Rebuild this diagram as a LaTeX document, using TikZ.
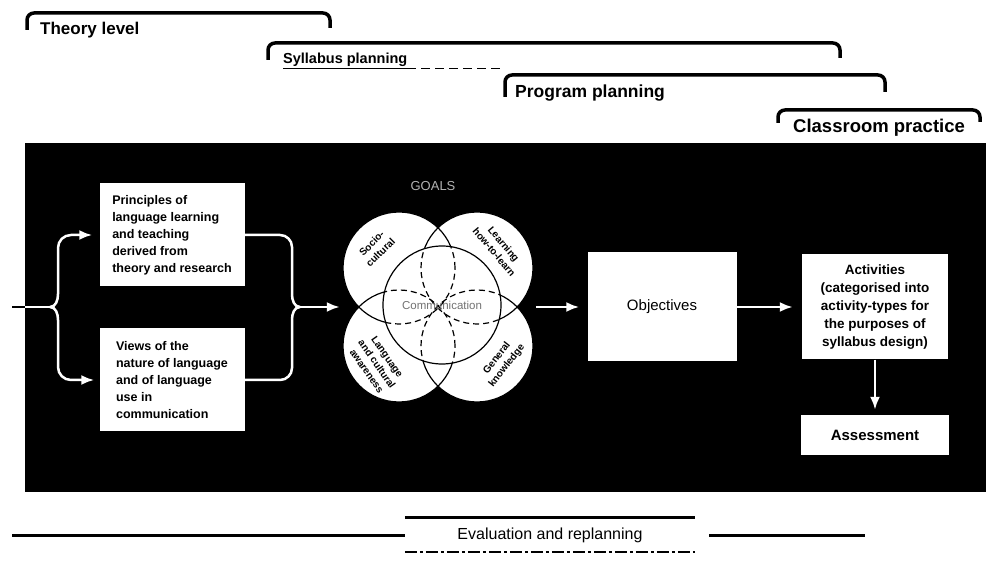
\documentclass[tikz,border=0pt]{standalone}
\usepackage{fontspec}
\setmainfont{Liberation Sans}
\usetikzlibrary{arrows.meta}

\begin{document}
\begin{tikzpicture}[
    x=1pt, y=-1pt,
    lvl/.style={font=\bfseries\fontsize{16}{18}\selectfont, anchor=west, inner sep=0pt},
    bracket/.style={line width=3.5pt, rounded corners=7pt},
    panel/.style={fill=white, minimum width=145pt, minimum height=103pt, inner sep=5pt,
                  align=left, font=\bfseries\fontsize{12.5}{17}\selectfont},
    wbox/.style={fill=white, inner sep=3pt},
    goal/.style={circle, draw, line width=1.2pt, minimum size=112pt, inner sep=0pt},
    ctext/.style={font=\bfseries\fontsize{10}{12.5}\selectfont, align=center, inner sep=0pt},
    wline/.style={white, line width=2.5pt},
    arr/.style={wline, -{Latex[length=13pt, width=10pt]}},
    evline/.style={line width=3pt}
  ]
  \useasboundingbox (0,0) rectangle (986,561);

  \draw[bracket] (27,30) |- (330,13) -- (330,28);
  \draw[bracket] (268,60) |- (840,43) -- (840,58);
  \draw[bracket] (505,97) |- (885,75) -- (885,92);
  \draw[bracket] (778,123) |- (980,110) -- (980,122);
  \node[lvl, font=\bfseries\fontsize{17}{19}\selectfont] (theory) at (40,30) {Theory level};
  \node[lvl, font=\bfseries\fontsize{14.5}{17}\selectfont] (syl) at (283,61) {\underline{Syllabus planning}};
  \node[lvl, font=\bfseries\fontsize{17.5}{19}\selectfont] (prog) at (515,93) {Program planning};
  \node[lvl, font=\bfseries\fontsize{18.5}{20}\selectfont] (class) at (793,128) {Classroom practice};
  \draw[line width=1pt, dash pattern=on 9pt off 5pt] (syl.south east) -- ++(95,0);

  \fill (25,143) rectangle (986,492);

  \node[panel] (tl) at (172,235) {Principles of\\language learning\\and teaching\\derived from\\theory and research};
  \node[panel] (bl) at (172,380) {Views of the\\nature of language\\and of language\\use in\\communication};

  \coordinate (in) at (12,307);
  \coordinate (edge) at (25,307);
  \coordinate (split) at (50,307);
  \coordinate (join) at (300,307);
  \draw[line width=2.5pt] (in) -- (edge);
  \draw[wline] (edge) -- (split);
  \draw[arr, shorten >=7pt] (split) to[out=0,in=-90] (58,294) -- (58,248)
    to[out=90,in=180] (71,235) -- (tl.west);
  \draw[arr, shorten >=5pt] (split) to[out=0,in=90] (58,320) -- (58,367)
    to[out=-90,in=180] (71,380) -- (bl.west);
  \draw[wline] (tl.east) -- (280,235) to[out=0,in=90] (292,247) -- (292,294)
    to[out=-90,in=180] (join);
  \draw[wline] (bl.east) -- (280,380) to[out=0,in=-90] (292,368) -- (292,320)
    to[out=90,in=180] (join);

  \node[font=\fontsize{13}{14}\selectfont, text=white!70!black] (goalt) at (433,186) {GOALS};
  \node[circle, minimum size=196pt, inner sep=0pt] (cluster) at (438,307) {};
  \foreach \p in {(399,268),(477,268),(399,346),(477,346)}
    \fill[white] \p circle (56pt);
  \node[goal] (soc) at (399,268) {};
  \node[goal] (lrn) at (477,268) {};
  \node[goal] (lang) at (399,346) {};
  \node[goal] (gen) at (477,346) {};
  \begin{scope}
    \clip (442,305) circle (59pt);
    \fill[white] (442,305) circle (59pt);
    \foreach \c in {soc,lrn,lang,gen}
      \draw[line width=1.2pt, dash pattern=on 6pt off 4pt] (\c) circle (56pt);
  \end{scope}
  \node[circle, draw, line width=1.2pt, minimum size=118pt, inner sep=0pt, text=black!55,
        font=\fontsize{11.5}{13}\selectfont] (comm) at (442,305) {Communication};
  \node[ctext, rotate=45] (soct) at (376,248) {Socio-\\cultural};
  \node[ctext, rotate=-50] (lrnt) at (499,248) {Learning\\how-to-learn};
  \node[ctext, rotate=-55] (langt) at (377,364) {Language\\and cultural\\awareness};
  \node[ctext, rotate=52] (gent) at (502,362) {General\\knowledge};

  \node[wbox, minimum width=149pt, minimum height=109pt, font=\fontsize{15}{17}\selectfont] (obj) at (662,307) {Objectives};
  \node[wbox, minimum width=146pt, minimum height=105pt, align=center,
        font=\bfseries\fontsize{13.5}{18}\selectfont] (act) at (875,307)
        {Activities\\(categorised into\\activity-types for\\the purposes of\\syllabus design)};
  \node[wbox, minimum width=148pt, minimum height=40pt, font=\bfseries\fontsize{15}{17}\selectfont] (ass) at (875,435) {Assessment};

  \draw[arr] (join) -- (cluster.west);
  \draw[arr, shorten >=8pt] (cluster.east) -- (obj.west);
  \draw[arr, shorten >=9pt] (obj.east) -- (act.west);
  \draw[arr, shorten >=5pt] (act.south) -- (ass.north);

  \node[font=\fontsize{16}{18}\selectfont, minimum width=290pt, minimum height=34pt, inner sep=0pt] (eval) at (550,535) {Evaluation and replanning};
  \coordinate (evl) at (12,535);
  \coordinate (evr) at (865,535);
  \draw[evline] (eval.north west) -- (eval.north east);
  \draw[line width=1.5pt, dash pattern=on 12pt off 3pt on 3pt off 3pt] (eval.south west) -- (eval.south east);
  \draw[evline] (evl) -- (eval.west);
  \draw[evline, shorten <=14pt] (eval.east) -- (evr);
\end{tikzpicture}
\end{document}
